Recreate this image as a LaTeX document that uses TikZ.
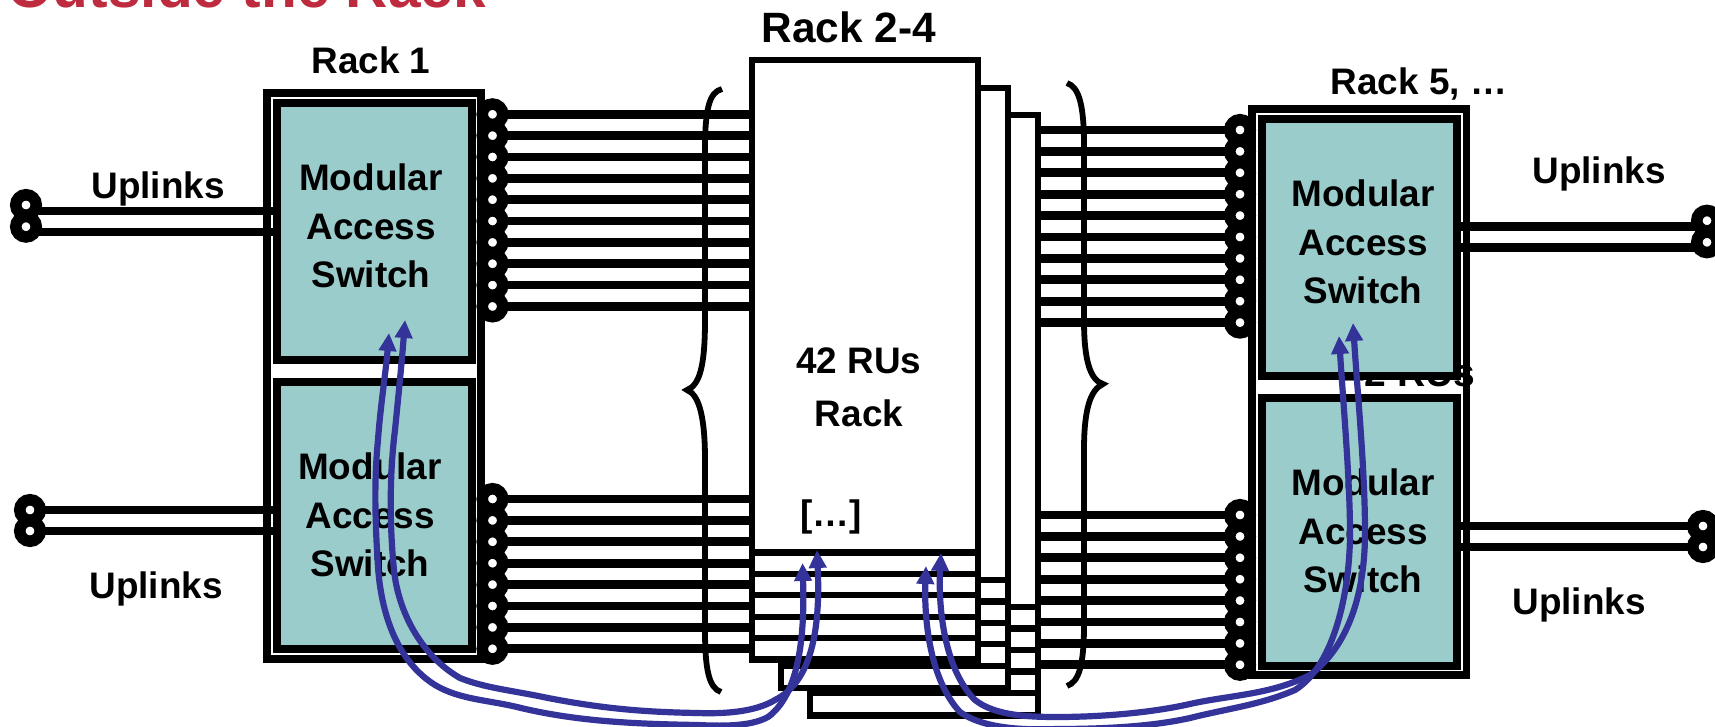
\documentclass[tikz,border=0pt]{standalone}
\usepackage{fontspec}
\setmainfont{Liberation Sans}
\usetikzlibrary{arrows.meta}
\definecolor{swfill}{HTML}{9BCCCC}
\definecolor{bluearr}{HTML}{333399}
\definecolor{titlered}{HTML}{BE2A3E}
\tikzset{
  x=0.5pt,y=-0.5pt,
  txt/.style={font=\bfseries\fontsize{18.45}{24.4}\selectfont,align=center,inner sep=0,outer sep=0},
  switchbox/.style={draw=black,line width=4pt,fill=swfill},
  rackframe/.style={draw=black,line width=3.8pt},
  rackbox/.style={draw=black,line width=3.2pt,fill=white},
  wire/.style={draw=black,line width=4.4pt},
  thinw/.style={draw=black,line width=3.1pt},
  portc/.style={circle,draw=black,fill=white,line width=5.75pt,minimum size=10.25pt,inner sep=0},
  bracel/.style={draw=black,line width=2.9pt},
  barr/.style={draw=bluearr,line width=3.1pt,{Triangle[length=9pt,width=8.5pt]}-{Triangle[length=9pt,width=8.5pt]}},
}
\begin{document}
\begin{tikzpicture}
\useasboundingbox (0,0) rectangle (1715,727);
\fill[white] (0,0) rectangle (1715,727);
\node[anchor=base west,inner sep=0,text=titlered,font=\bfseries\fontsize{29.3}{30}\selectfont] (title) at (7,8) {Outside the Rack};
% rear racks
\draw[rackbox] (810,115) rectangle (1038,715.5);
\foreach \i in {0,...,4}{\draw[thinw] (810,607+21.5*\i) -- (1038,607+21.5*\i);}
\draw[rackbox] (781,88) rectangle (1008,688);
\foreach \i in {0,...,4}{\draw[thinw] (781,580+21.4*\i) -- (1008,580+21.4*\i);}
\draw[rackbox] (752,60) rectangle (978,659.5);
\foreach \i in {0,...,4}{\draw[thinw] (752,552.5+21.4*\i) -- (978,552.5+21.4*\i);}
% left wires
\foreach \i in {0,...,9}{\draw[wire] (492.5,114.3+21.35*\i) -- (751,114.3+21.35*\i);}
\foreach \i in {0,...,7}{\draw[wire] (492.5,499+21.4*\i) -- (751,499+21.4*\i);}
% right wires
\foreach \i in {0,...,9}{\draw[wire] (1037,130+21.4*\i) -- (1240,130+21.4*\i);}
\foreach \i in {0,...,7}{\draw[wire] (1037,515+21.4*\i) -- (1240,515+21.4*\i);}
% braces
\draw[bracel] (722,89) .. controls (709,92) and (705,110) .. (705,150) -- (705,320) .. controls (705,365) and (700,385) .. (687,390) .. controls (700,395) and (705,420) .. (705,460) -- (705,630) .. controls (705,670) and (709,688) .. (721,692);
\draw[bracel] (1067,83) .. controls (1079,87) and (1084,105) .. (1084,145) -- (1084,320) .. controls (1084,360) and (1090,380) .. (1103,384) .. controls (1090,390) and (1084,410) .. (1084,450) -- (1084,625) .. controls (1084,665) and (1079,682) .. (1067,686);
% uplinks
\draw[wire] (26,211) -- (273,211);
\draw[wire] (26,232) -- (273,232);
\draw[wire] (30,510) -- (273,510);
\draw[wire] (30,531) -- (273,531);
% rack 1
\draw[rackframe] (267,93) rectangle (481,659);
\node[switchbox,minimum width=97.5pt,minimum height=128.5pt,inner sep=0] (s1) at (374.5,231.5) {};
\node[switchbox,minimum width=97.5pt,minimum height=133.5pt,inner sep=0] (s2) at (374.5,515.5) {};
% rack 5
\draw[rackframe] (1252,109) rectangle (1466.5,675);
\node[txt,font=\bfseries\fontsize{19.5}{24}\selectfont] (hidden) at (1409,373) {42 RUs};
\node[switchbox,minimum width=97.75pt,minimum height=128.25pt,inner sep=0] (s3) at (1359.25,247.75) {};
\node[switchbox,minimum width=97.75pt,minimum height=133.75pt,inner sep=0] (s4) at (1359.25,531.75) {};
\draw[wire] (1460,226.5) -- (1707,226.5);
\draw[wire] (1460,247.7) -- (1707,247.7);
\draw[wire] (1460,526) -- (1703,526);
\draw[wire] (1460,547) -- (1703,547);
% ports
\foreach \i in {0,...,9}{\node[portc] (pa\i) at (492.5,114.3+21.35*\i) {};}
\foreach \i in {0,...,7}{\node[portc] (pb\i) at (492.5,499+21.4*\i) {};}
\foreach \i in {0,...,9}{\node[portc] (pc\i) at (1240,130+21.4*\i) {};}
\foreach \i in {0,...,7}{\node[portc] (pd\i) at (1240,515+21.4*\i) {};}
\node[portc] (u1) at (26,205) {};
\node[portc] (u2) at (26,226.7) {};
\node[portc] (u3) at (30,510) {};
\node[portc] (u4) at (30,531) {};
\node[portc] (u5) at (1707,220.7) {};
\node[portc] (u6) at (1707,242.3) {};
\node[portc] (u7) at (1703,526) {};
\node[portc] (u8) at (1703,547) {};
% texts
\node[txt] (t1) at (371,60) {Rack 1};
\node[txt,font=\bfseries\fontsize{21.2}{25}\selectfont] (t2) at (849,27) {Rack 2-4};
\node[txt] (t3) at (1419,84) {Rack 5, …};
\node[txt] (t4) at (158,189) {Uplinks};
\node[txt] (t5) at (156,589) {Uplinks};
\node[txt] (t6) at (1599,174) {Uplinks};
\node[txt] (t7) at (1579,605) {Uplinks};
\node[txt] (l1) at (371,226) {Modular\\Access\\Switch};
\node[txt] (l2) at (370,515) {Modular\\Access\\Switch};
\node[txt] (l3) at (1363,242) {Modular\\Access\\Switch};
\node[txt] (l4) at (1363,531) {Modular\\Access\\Switch};
\node[txt] (r1) at (859,387) {42 RUs\\[0.12em]Rack};
\node[txt] (r2) at (831,517) {[…]};
% blue arrows
\draw[barr] (802.5,563) .. controls (805,640) and (798,695) .. (768,717) .. controls (750,727) and (720,726) .. (697,725) .. controls (640,724) and (580,722) .. (521,708) .. controls (490,700) and (460,700) .. (435,685) .. controls (395,660) and (381,610) .. (378,567) .. controls (375,520) and (374,480) .. (378,440) .. controls (380,410) and (386,370) .. (389,333);
\draw[barr] (817,550) .. controls (820,620) and (815,680) .. (775,700) .. controls (755,712) and (725,714) .. (697,713) .. controls (640,712) and (600,708) .. (548,698) .. controls (510,690) and (485,688) .. (460,678) .. controls (420,655) and (398,610) .. (394,570) .. controls (389,520) and (390,470) .. (395,430) .. controls (398,400) and (402,360) .. (405,320);
\draw[barr] (926,566) .. controls (924,620) and (930,680) .. (960,712) .. controls (985,730) and (1030,730) .. (1057,729) .. controls (1100,729) and (1150,727) .. (1190,718) .. controls (1230,708) and (1260,705) .. (1295,690) .. controls (1335,665) and (1350,590) .. (1350,533) .. controls (1350,480) and (1343,400) .. (1339,336);
\draw[barr] (941,553) .. controls (938,610) and (945,670) .. (975,700) .. controls (995,716) and (1030,717) .. (1057,717) .. controls (1100,717) and (1150,713) .. (1190,704) .. controls (1230,695) and (1270,695) .. (1310,675) .. controls (1350,645) and (1365,590) .. (1365,533) .. controls (1365,470) and (1358,400) .. (1353,323);
\end{tikzpicture}
\end{document}
